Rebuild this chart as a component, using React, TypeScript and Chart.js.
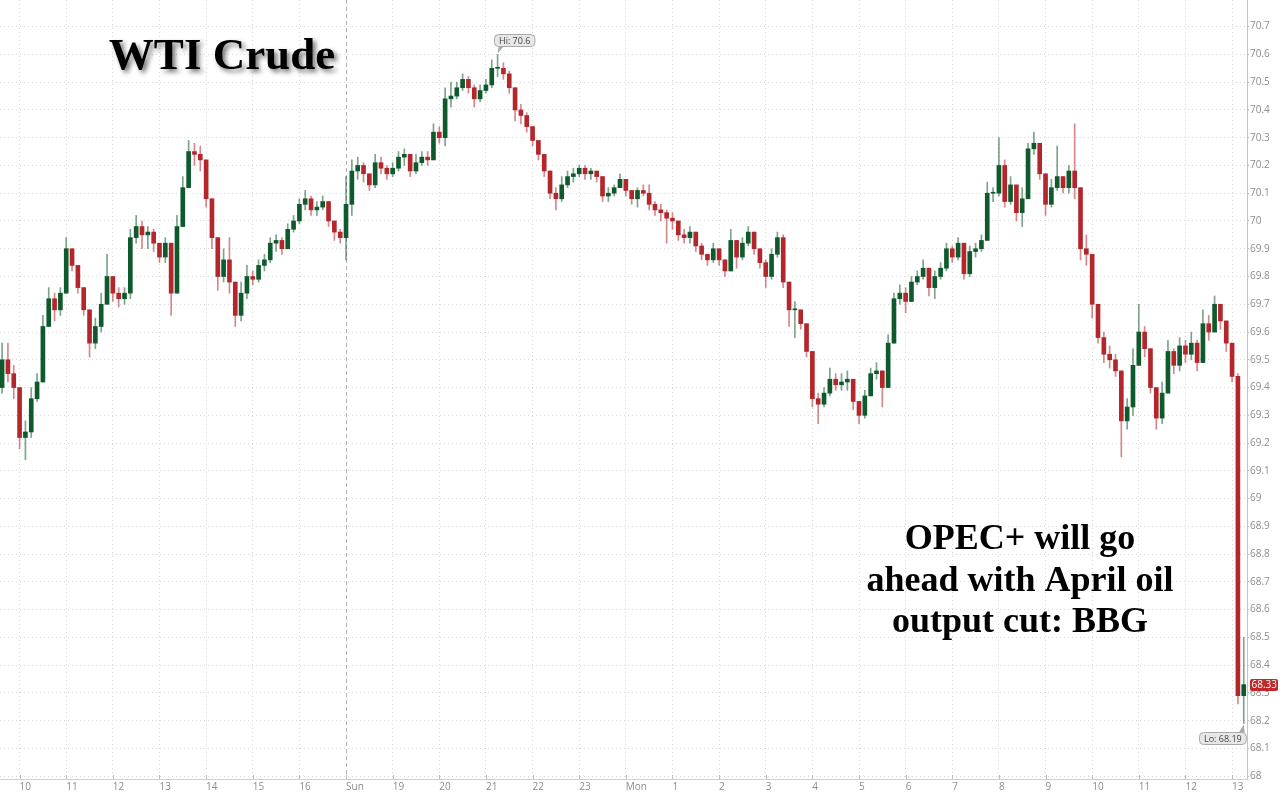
import React, { useEffect, useRef } from "react";
import { Chart, registerables } from "chart.js";

Chart.register(...registerables);

// ---- axis labels ----
const hourLabels = [
  "10", "11", "12", "13", "14", "15", "16", "Sun", "19", "20", "21", "22", "23",
  "Mon", "1", "2", "3", "4", "5", "6", "7", "8", "9", "10", "11", "12", "13",
];
const priceTicks = [
  68.0, 68.1, 68.2, 68.3, 68.4, 68.5, 68.6, 68.7, 68.8, 68.9,
  69.0, 69.1, 69.2, 69.3, 69.4, 69.5, 69.6, 69.7, 69.8, 69.9,
  70.0, 70.1, 70.2, 70.3, 70.4, 70.5, 70.6, 70.7,
];

// ---- candles (8 per hour, first one at hour-slot -0.375) ----
const candleStart = -0.375;
const candlesPerHour = 8;
const firstOpen = 69.4;
const closes = [
  69.50, 69.45, 69.40, 69.22, 69.24, 69.36, 69.42, 69.62, 69.72, 69.68,
  69.74, 69.90, 69.84, 69.76, 69.68, 69.56, 69.62, 69.70, 69.80, 69.74,
  69.72, 69.74, 69.94, 69.98, 69.95, 69.96, 69.92, 69.87, 69.92, 69.74,
  69.98, 70.12, 70.25, 70.24, 70.22, 70.08, 69.94, 69.80, 69.86, 69.78,
  69.66, 69.74, 69.80, 69.79, 69.84, 69.86, 69.92, 69.93, 69.90, 69.97,
  70.00, 70.06, 70.08, 70.04, 70.05, 70.07, 70.00, 69.96, 69.94, 70.06,
  70.18, 70.20, 70.17, 70.13, 70.21, 70.19, 70.17, 70.19, 70.23, 70.24,
  70.18, 70.21, 70.23, 70.22, 70.32, 70.30, 70.44, 70.45, 70.48, 70.51,
  70.48, 70.44, 70.47, 70.49, 70.55, 70.55, 70.53, 70.48, 70.40, 70.38,
  70.34, 70.29, 70.24, 70.18, 70.10, 70.08, 70.13, 70.16, 70.17, 70.19,
  70.17, 70.18, 70.16, 70.09, 70.10, 70.12, 70.15, 70.11, 70.08, 70.11,
  70.10, 70.06, 70.04, 70.03, 70.01, 70.00, 69.95, 69.94, 69.96, 69.91,
  69.88, 69.86, 69.90, 69.86, 69.82, 69.93, 69.87, 69.92, 69.96, 69.90,
  69.85, 69.80, 69.88, 69.94, 69.78, 69.68, 69.68, 69.63, 69.53, 69.36,
  69.34, 69.38, 69.43, 69.41, 69.42, 69.43, 69.35, 69.30, 69.37, 69.45,
  69.46, 69.40, 69.56, 69.72, 69.74, 69.71, 69.78, 69.80, 69.83, 69.76,
  69.80, 69.83, 69.90, 69.87, 69.92, 69.81, 69.89, 69.90, 69.93, 70.10,
  70.10, 70.20, 70.07, 70.13, 70.03, 70.08, 70.26, 70.28, 70.17, 70.06,
  70.12, 70.16, 70.12, 70.18, 70.12, 69.90, 69.88, 69.70, 69.58, 69.52,
  69.50, 69.46, 69.28, 69.33, 69.48, 69.60, 69.54, 69.40, 69.29, 69.38,
  69.53, 69.48, 69.55, 69.52, 69.56, 69.49, 69.63, 69.60, 69.70, 69.64,
  69.56, 69.44, 68.29, 68.33,
];
const highs = [
  69.56, 69.56, 69.48, 69.40, 69.28, 69.40, 69.45, 69.66, 69.76, 69.74,
  69.76, 69.94, 69.90, 69.84, 69.76, 69.66, 69.65, 69.74, 69.88, 69.80,
  69.76, 69.76, 69.97, 70.02, 70.00, 69.98, 69.97, 69.92, 69.94, 69.92,
  70.02, 70.16, 70.29, 70.28, 70.27, 70.22, 70.02, 69.94, 69.90, 69.94,
  69.78, 69.78, 69.84, 69.82, 69.86, 69.88, 69.94, 69.95, 69.94, 69.99,
  70.02, 70.08, 70.11, 70.09, 70.07, 70.09, 70.07, 70.00, 69.97, 70.16,
  70.22, 70.23, 70.21, 70.17, 70.24, 70.23, 70.20, 70.21, 70.25, 70.26,
  70.24, 70.24, 70.25, 70.25, 70.35, 70.34, 70.48, 70.50, 70.50, 70.53,
  70.52, 70.49, 70.49, 70.51, 70.58, 70.60, 70.57, 70.54, 70.48, 70.42,
  70.39, 70.34, 70.29, 70.24, 70.18, 70.12, 70.16, 70.18, 70.19, 70.20,
  70.20, 70.19, 70.18, 70.16, 70.12, 70.13, 70.17, 70.15, 70.11, 70.12,
  70.13, 70.13, 70.07, 70.06, 70.04, 70.03, 70.00, 69.97, 69.98, 69.96,
  69.92, 69.88, 69.92, 69.90, 69.86, 69.97, 69.93, 69.94, 69.98, 69.96,
  69.90, 69.86, 69.90, 69.96, 69.95, 69.76, 69.71, 69.68, 69.62, 69.52,
  69.38, 69.40, 69.47, 69.45, 69.45, 69.46, 69.43, 69.35, 69.39, 69.47,
  69.49, 69.46, 69.59, 69.74, 69.77, 69.76, 69.80, 69.82, 69.86, 69.83,
  69.82, 69.85, 69.92, 69.91, 69.94, 69.92, 69.91, 69.92, 69.95, 70.14,
  70.12, 70.30, 70.22, 70.16, 70.12, 70.12, 70.28, 70.32, 70.28, 70.17,
  70.15, 70.27, 70.16, 70.20, 70.35, 70.00, 69.95, 69.84, 69.66, 69.60,
  69.55, 69.52, 69.46, 69.36, 69.54, 69.70, 69.62, 69.54, 69.40, 69.42,
  69.57, 69.54, 69.58, 69.57, 69.60, 69.57, 69.68, 69.66, 69.73, 69.70,
  69.64, 69.56, 69.45, 68.50,
];
const lows = [
  69.38, 69.42, 69.36, 69.18, 69.14, 69.22, 69.35, 69.42, 69.62, 69.64,
  69.66, 69.74, 69.82, 69.74, 69.66, 69.51, 69.54, 69.60, 69.70, 69.71,
  69.69, 69.70, 69.72, 69.92, 69.90, 69.90, 69.89, 69.85, 69.85, 69.66,
  69.74, 70.00, 70.12, 70.20, 70.18, 70.05, 69.90, 69.75, 69.78, 69.74,
  69.62, 69.64, 69.72, 69.77, 69.78, 69.82, 69.85, 69.89, 69.88, 69.90,
  69.96, 69.99, 70.04, 70.02, 70.02, 70.04, 69.98, 69.93, 69.92, 69.86,
  70.02, 70.15, 70.14, 70.11, 70.12, 70.17, 70.15, 70.16, 70.18, 70.20,
  70.16, 70.17, 70.20, 70.20, 70.22, 70.28, 70.27, 70.41, 70.44, 70.47,
  70.46, 70.41, 70.43, 70.46, 70.48, 70.52, 70.51, 70.46, 70.36, 70.35,
  70.32, 70.27, 70.22, 70.16, 70.08, 70.04, 70.07, 70.12, 70.14, 70.16,
  70.15, 70.15, 70.14, 70.07, 70.07, 70.09, 70.12, 70.09, 70.06, 70.05,
  70.09, 70.04, 70.02, 70.00, 69.92, 69.97, 69.93, 69.92, 69.92, 69.89,
  69.86, 69.84, 69.85, 69.84, 69.80, 69.82, 69.83, 69.86, 69.91, 69.88,
  69.83, 69.76, 69.79, 69.87, 69.76, 69.62, 69.58, 69.61, 69.51, 69.33,
  69.27, 69.33, 69.37, 69.39, 69.39, 69.39, 69.32, 69.27, 69.29, 69.37,
  69.43, 69.33, 69.40, 69.56, 69.70, 69.67, 69.71, 69.77, 69.79, 69.73,
  69.72, 69.79, 69.82, 69.85, 69.86, 69.79, 69.80, 69.87, 69.89, 69.93,
  70.07, 70.09, 70.05, 70.06, 70.00, 69.98, 70.08, 70.24, 70.15, 70.02,
  70.05, 70.11, 70.10, 70.10, 70.08, 69.86, 69.84, 69.65, 69.56, 69.49,
  69.47, 69.44, 69.15, 69.25, 69.30, 69.48, 69.51, 69.38, 69.25, 69.27,
  69.38, 69.45, 69.46, 69.49, 69.50, 69.46, 69.49, 69.57, 69.60, 69.61,
  69.53, 69.42, 68.26, 68.19,
];

const GREEN = "#0e5a2c";
const RED = "#b3262b";
const GREEN_WICK = "rgba(14,90,44,0.55)";
const RED_WICK = "rgba(179,38,43,0.55)";

const fmt = (v: number) => String(Number(v.toFixed(2)));

export default function App() {
  const canvasRef = useRef<HTMLCanvasElement | null>(null);

  useEffect(() => {
    const canvas = canvasRef.current;
    if (!canvas) return;

    const opens = closes.map((c, i) => (i === 0 ? firstOpen : closes[i - 1]));
    const times = closes.map((_, i) => candleStart + i / candlesPerHour);
    const isUp = closes.map((c, i) => c >= opens[i]);
    const bodyData = closes.map((c, i) => ({ x: times[i], y: [opens[i], c] }));
    const wickData = closes.map((c, i) => ({
      x: times[i],
      y: [Math.min(lows[i], opens[i], c), Math.max(highs[i], opens[i], c)],
    }));

    let hiIdx = 0;
    let loIdx = 0;
    highs.forEach((h, i) => { if (h > highs[hiIdx]) hiIdx = i; });
    lows.forEach((l, i) => { if (l < lows[loIdx]) loIdx = i; });
    const lastIdx = closes.length - 1;

    const CALLOUT_FONT = "9px 'Open Sans', sans-serif";
    const callout = (ctx: CanvasRenderingContext2D, text: string, left: number, top: number) => {
      ctx.font = CALLOUT_FONT;
      const w = ctx.measureText(text).width + 9;
      const h = 12;
      ctx.fillStyle = "#e7e7e7";
      ctx.strokeStyle = "#a9a9a9";
      ctx.lineWidth = 1;
      ctx.beginPath();
      ctx.roundRect(left + 0.5, top + 0.5, w, h, 4);
      ctx.fill();
      ctx.stroke();
      ctx.fillStyle = "#454545";
      ctx.textAlign = "left";
      ctx.textBaseline = "middle";
      ctx.fillText(text, left + 5, top + h / 2 + 1);
      return w;
    };

    const overlay = {
      id: "overlay",
      beforeDatasetsDraw(chart: any) {
        const { ctx, chartArea, scales } = chart;
        const sx = Math.round(scales.x.getPixelForValue(hourLabels.indexOf("Sun"))) + 0.5;
        ctx.save();
        ctx.strokeStyle = "#b0b0b0";
        ctx.lineWidth = 1;
        ctx.setLineDash([4, 3]);
        ctx.beginPath();
        ctx.moveTo(sx, chartArea.top);
        ctx.lineTo(sx, chartArea.bottom);
        ctx.stroke();
        ctx.restore();
      },
      afterDraw(chart: any) {
        const { ctx, chartArea, scales } = chart;
        const xs = scales.x;
        const ys = scales.y;
        ctx.save();
        // x tick marks above the axis line
        ctx.strokeStyle = "#bdbdbd";
        ctx.lineWidth = 1;
        hourLabels.forEach((_, i) => {
          const px = Math.round(xs.getPixelForValue(i)) + 0.5;
          ctx.beginPath();
          ctx.moveTo(px, chartArea.bottom - 4);
          ctx.lineTo(px, chartArea.bottom);
          ctx.stroke();
        });

        // Hi callout
        const hx = xs.getPixelForValue(times[hiIdx]);
        const hy = ys.getPixelForValue(highs[hiIdx]);
        const hTop = Math.round(hy - 20);
        callout(ctx, "Hi: " + fmt(highs[hiIdx]), Math.round(hx - 4), hTop);
        ctx.fillStyle = "#a9a9a9";
        ctx.beginPath();
        ctx.moveTo(hx + 1, hTop + 12.5);
        ctx.lineTo(hx + 6, hTop + 12.5);
        ctx.lineTo(hx, hy - 1);
        ctx.closePath();
        ctx.fill();

        // Lo callout
        const lx = xs.getPixelForValue(times[loIdx]);
        const ly = ys.getPixelForValue(lows[loIdx]);
        ctx.font = CALLOUT_FONT;
        const lw = ctx.measureText("Lo: " + fmt(lows[loIdx])).width + 9;
        const lTop = Math.round(ly + 9);
        callout(ctx, "Lo: " + fmt(lows[loIdx]), Math.round(lx + 2 - lw), lTop);
        ctx.fillStyle = "#a9a9a9";
        ctx.beginPath();
        ctx.moveTo(lx - 5, lTop + 0.5);
        ctx.lineTo(lx + 1, lTop + 0.5);
        ctx.lineTo(lx, ly + 1);
        ctx.closePath();
        ctx.fill();

        // last price tag
        const py = ys.getPixelForValue(closes[lastIdx]);
        ctx.fillStyle = "#c0292c";
        ctx.beginPath();
        ctx.roundRect(chartArea.right + 3, Math.round(py - 6), 28, 12, 2);
        ctx.fill();
        ctx.fillStyle = "#ffffff";
        ctx.font = "10px 'Open Sans', sans-serif";
        ctx.textAlign = "left";
        ctx.textBaseline = "middle";
        ctx.fillText(closes[lastIdx].toFixed(2), chartArea.right + 4.5, Math.round(py) + 0.5);

        // Title
        ctx.font = "bold 45px 'Liberation Serif', 'DejaVu Serif', serif";
        ctx.textAlign = "center";
        ctx.textBaseline = "alphabetic";
        ctx.shadowColor = "rgba(0,0,0,0.55)";
        ctx.shadowBlur = 5;
        ctx.shadowOffsetX = 3;
        ctx.shadowOffsetY = 3;
        ctx.fillStyle = "#000000";
        ctx.fillText("WTI Crude", 222, 69);
        ctx.shadowColor = "rgba(0,0,0,0)";
        ctx.shadowBlur = 0;
        ctx.shadowOffsetX = 0;
        ctx.shadowOffsetY = 0;

        // annotation
        ctx.font = "bold 36px 'Liberation Serif', 'DejaVu Serif', serif";
        ctx.fillStyle = "#000000";
        ctx.fillText("OPEC+ will go", 1020, 549);
        ctx.fillText("ahead with April oil", 1020, 591);
        ctx.fillText("output cut: BBG", 1020, 632);
        ctx.restore();
      },
    };

    const chart = new Chart(canvas, {
      type: "bar",
      data: {
        datasets: [
          {
            label: "body",
            data: bodyData as any,
            backgroundColor: isUp.map((u) => (u ? GREEN : RED)),
            borderWidth: 0,
            grouped: false,
            categoryPercentage: 1,
            barPercentage: 1,
            maxBarThickness: 4,
            minBarLength: 1,
            order: 0,
          } as any,
          {
            label: "wick",
            data: wickData as any,
            backgroundColor: isUp.map((u) => (u ? GREEN_WICK : RED_WICK)),
            borderWidth: 0,
            grouped: false,
            categoryPercentage: 1,
            barPercentage: 1,
            maxBarThickness: 1,
            order: 1,
          } as any,
        ],
      },
      options: {
        animation: false,
        responsive: false,
        maintainAspectRatio: false,
        devicePixelRatio: 1,
        events: [],
        layout: { padding: 0 },
        plugins: { legend: { display: false }, tooltip: { enabled: false } },
        scales: {
          x: {
            type: "linear",
            position: "bottom",
            offset: false,
            min: -0.42,
            max: 26.32,
            afterBuildTicks: (s: any) => {
              s.ticks = hourLabels.map((_, i) => ({ value: i }));
            },
            afterFit: (s: any) => {
              s.height = 13;
              s.paddingLeft = 0;
              s.paddingRight = 0;
            },
            ticks: {
              autoSkip: false,
              maxRotation: 0,
              align: "start",
              padding: 2,
              color: "#8c8c8c",
              font: { family: "'Open Sans', sans-serif", size: 10 },
              callback: (v: any) => hourLabels[Math.round(v)] ?? "",
            },
            grid: {
              offset: false,
              color: (c: any) => (c.index === 7 ? "rgba(0,0,0,0)" : "#d9d9d9"),
              lineWidth: 1,
              drawTicks: false,
            },
            border: { display: true, color: "#cfcfcf", width: 1, dash: [1, 3] },
          },
          y: {
            type: "linear",
            position: "right",
            min: 67.99,
            max: 70.796,
            afterBuildTicks: (s: any) => {
              s.ticks = priceTicks.map((v) => ({ value: v }));
            },
            afterFit: (s: any) => {
              s.width = 33;
              s.paddingTop = 0;
              s.paddingBottom = 0;
            },
            ticks: {
              padding: 1,
              color: "#8c8c8c",
              font: { family: "'Open Sans', sans-serif", size: 10 },
              callback: (v: any) => String(Math.round(Number(v) * 10) / 10),
            },
            grid: {
              color: "#d9d9d9",
              lineWidth: 1,
              tickLength: 2,
              tickColor: "#b5b5b5",
            },
            border: { display: true, color: "#c4c4c4", width: 1, dash: [1, 3] },
          },
        },
      } as any,
      plugins: [overlay],
    });

    return () => chart.destroy();
  }, []);

  return (
    <div style={{ position: "fixed", left: 0, top: 0, width: 1280, height: 792, background: "#ffffff" }}>
      <canvas ref={canvasRef} width={1280} height={792} style={{ display: "block", width: 1280, height: 792 }} />
    </div>
  );
}
